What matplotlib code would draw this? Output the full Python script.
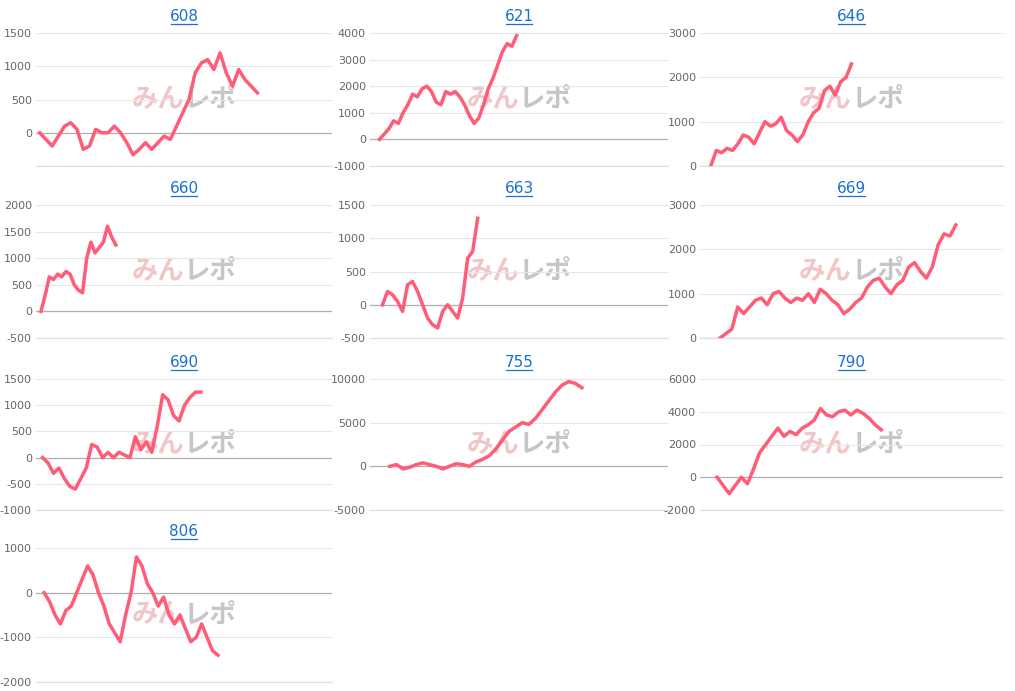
import matplotlib
matplotlib.use("Agg")
import matplotlib.pyplot as plt
import numpy as np

W, H = 1015, 691
titles = ["608", "621", "646", "660", "663", "669", "690", "755", "790", "806"]
s608 = [0,-100,-200,-50,100,150,50,-250,-200,50,0,0,100,0,-150,-330,-250,-150,-250,-150,-50,-100,100,300,500,900,1050,1100,950,1200,900,700,950,800,700,600]
s621 = [0,200,400,700,600,1000,1300,1700,1600,1900,2000,1800,1400,1300,1800,1700,1800,1600,1300,900,600,800,1300,1900,2300,2800,3300,3600,3500,3900]
s646 = [0,350,300,400,350,500,700,650,500,750,1000,900,950,1100,800,700,550,700,1000,1200,1300,1700,1800,1600,1900,2000,2300]
s660 = [0,300,650,600,700,650,750,700,500,400,350,1000,1300,1100,1200,1300,1600,1400,1250]
s663 = [0,200,150,50,-100,300,350,200,0,-200,-300,-350,-100,0,-100,-200,100,700,800,1300]
s669 = [0,100,200,700,550,700,850,900,750,1000,1050,900,800,900,850,1000,800,1100,1000,850,750,550,650,800,900,1150,1300,1350,1150,1000,1200,1300,1600,1700,1500,1350,1600,2100,2350,2300,2550]
s690 = [0,-100,-300,-200,-400,-550,-600,-400,-200,250,200,0,100,0,100,50,0,400,150,300,100,600,1200,1100,800,700,1000,1150,1250,1250]
s755 = [0,200,-300,-100,200,400,200,0,-300,0,300,200,0,500,800,1200,2000,3000,4000,4500,5000,4800,5500,6500,7500,8500,9300,9700,9500,9000]
s790 = [0,-500,-1000,-500,0,-400,500,1500,2000,2500,3000,2500,2800,2600,3000,3200,3500,4200,3800,3700,4000,4100,3800,4100,3900,3600,3200,2900]
s806 = [0,-200,-500,-700,-400,-300,0,300,600,400,0,-300,-700,-900,-1100,-500,0,800,600,200,0,-300,-100,-500,-700,-500,-800,-1100,-1000,-700,-1000,-1300,-1400]
series = [s608, s621, s646, s660, s663, s669, s690, s755, s790, s806]
yticks = [[-500,0,500,1000,1500],[-1000,0,1000,2000,3000,4000],[0,1000,2000,3000],
          [-500,0,500,1000,1500,2000],[-500,0,500,1000,1500],[0,1000,2000,3000],
          [-1000,-500,0,500,1000,1500],[-5000,0,5000,10000],[-2000,0,2000,4000,6000],
          [-2000,-1000,0,1000]]
xspan = [47, 61, 54, 70, 57, 48, 53, 42, 47, 53]
xstart = [0.6, 2, 2, 1.2, 2.5, 3.4, 1.2, 3, 2.8, 1.5]
showlow = [False, True, True, True, True, True, True, True, True, True]

cols = [(36, 332), (370, 668), (700, 1003)]
rows = [(33, 166), (205, 338), (379, 510), (548, 682)]

fig = plt.figure(figsize=(W/100, H/100), dpi=100)
for i, s in enumerate(series):
    r, c = divmod(i, 3)
    x0, x1 = cols[c]; top, bot = rows[r]
    ax = fig.add_axes([x0/W, 1-bot/H, (x1-x0)/W, (bot-top)/H])
    yt = yticks[i]
    ax.set_ylim(yt[0], yt[-1])
    ax.set_xlim(-xstart[i], xspan[i])
    ax.set_yticks(yt)
    labels = [str(v) for v in yt]
    if not showlow[i]:
        labels[0] = ""
    ax.set_yticklabels(labels)
    ax.set_xticks([])
    ax.grid(axis="y", color="#e6e6e6", lw=0.8)
    for sp in ["top", "right", "left"]:
        ax.spines[sp].set_visible(False)
    ax.spines["bottom"].set_color("#dddddd")
    ax.axhline(0, color="#b0b0b0", lw=0.9)
    ax.tick_params(axis="y", length=0, labelsize=8, labelcolor="#666666", pad=3)
    ax.text(0.5, 0.50, "みん", transform=ax.transAxes, ha="right", va="center",
            fontsize=19, color="#e8a0a0", alpha=0.6, fontweight="bold", style="italic",
            family=["Noto Sans CJK JP", "DejaVu Sans"], zorder=1)
    ax.text(0.5, 0.50, "レポ", transform=ax.transAxes, ha="left", va="center",
            fontsize=19, color="#a0a0a0", alpha=0.6, fontweight="bold", style="italic",
            family=["Noto Sans CJK JP", "DejaVu Sans"], zorder=1)
    ax.plot(np.arange(len(s)), s, color="#ff5c77", lw=2.5, zorder=3)
    ax.text(0.5, 1.07, titles[i], transform=ax.transAxes, ha="center", va="bottom",
            fontsize=11, color="#1a6fd1")
    ax.plot([0.455, 0.545], [1.065, 1.065], transform=ax.transAxes, color="#1a6fd1",
            lw=0.9, clip_on=False)
fig.savefig("out.png", dpi=100)
